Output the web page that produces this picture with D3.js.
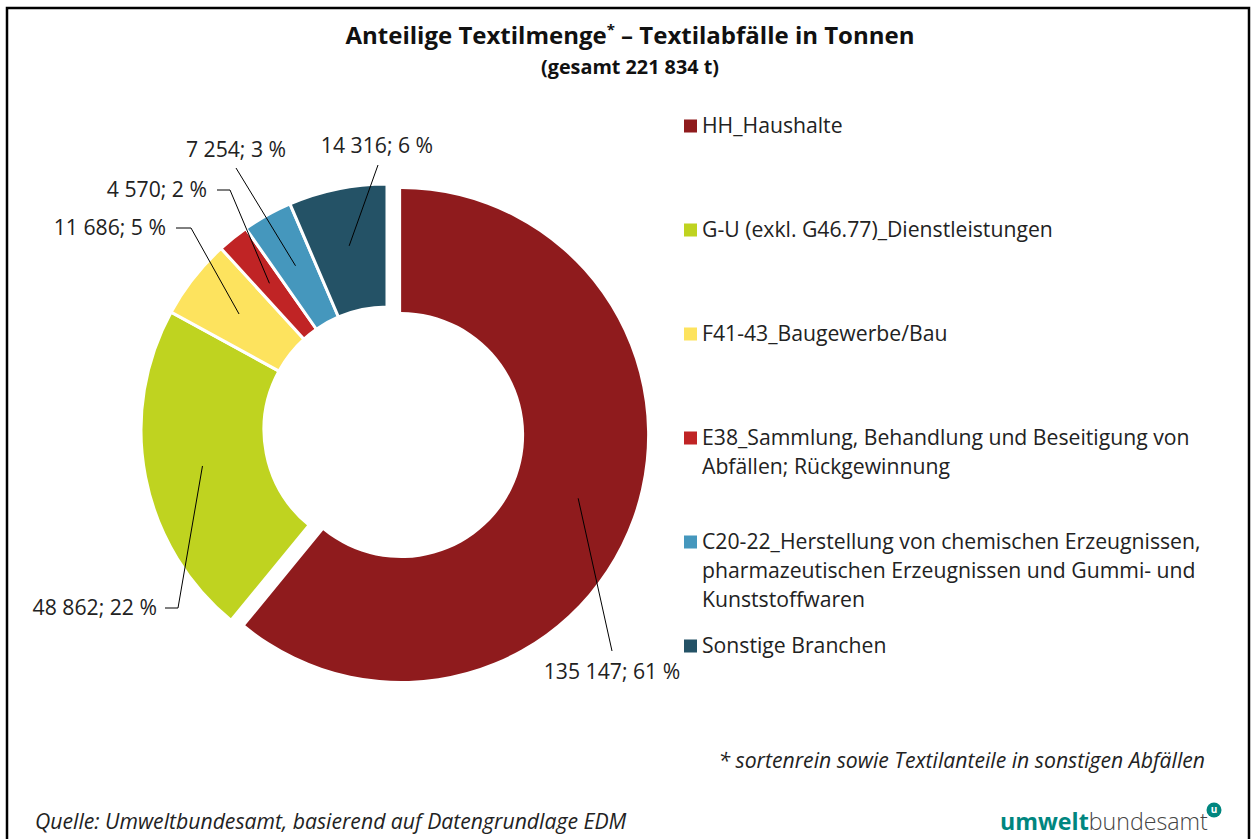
<!DOCTYPE html>
<html>
<head>
<meta charset="utf-8">
<script src="https://cdn.jsdelivr.net/npm/d3@7"></script>
<style>
  html, body { margin: 0; padding: 0; background: #fff; }
  svg { display: block; font-family: "Open Sans", "Noto Sans", sans-serif; }
</style>
</head>
<body>
<svg id="chart" width="1252" height="839"></svg>
<script>
// data
var categories = [
  'HH_Haushalte',
  'G-U (exkl. G46.77)_Dienstleistungen',
  'F41-43_Baugewerbe/Bau',
  'E38_Sammlung, Behandlung und Beseitigung von Abfällen; Rückgewinnung',
  'C20-22_Herstellung von chemischen Erzeugnissen, pharmazeutischen Erzeugnissen und Gummi- und Kunststoffwaren',
  'Sonstige Branchen'
];
var legendLines = [
  ['HH_Haushalte'],
  ['G-U (exkl. G46.77)_Dienstleistungen'],
  ['F41-43_Baugewerbe/Bau'],
  ['E38_Sammlung, Behandlung und Beseitigung von', 'Abfällen; Rückgewinnung'],
  ['C20-22_Herstellung von chemischen Erzeugnissen,', 'pharmazeutischen Erzeugnissen und Gummi- und', 'Kunststoffwaren'],
  ['Sonstige Branchen']
];
var values = [135147, 48862, 11686, 4570, 7254, 14316];
var colors = ['#8f1b1d', '#bfd320', '#fde35e', '#c02425', '#4597bd', '#245266'];

// label placement (text position and elbow of leader line)
var labelLayout = [
  { x: 612, y: 672, anchor: 'middle', from: [612, 651], elbow: null },
  { x: 157, y: 608, anchor: 'end', from: [165, 608], elbow: [178, 608] },
  { x: 166, y: 228, anchor: 'end', from: [176, 228], elbow: [191, 228] },
  { x: 207, y: 190, anchor: 'end', from: [217, 190], elbow: [230, 190] },
  { x: 236, y: 150, anchor: 'middle', from: [236, 168], elbow: null },
  { x: 377, y: 146, anchor: 'middle', from: [378, 165], elbow: null }
];

var cx = 387, cy = 430, R = 246, r = 123, explode = 15;
var fs = 21.2;

var svg = d3.select('#chart');
var loc = d3.formatLocale({ decimal: ',', thousands: ' ', grouping: [3], currency: ['', ' €'] });
var fmt = loc.format(',d');
var total = d3.sum(values);

// frame
svg.append('rect')
  .attr('x', 7).attr('y', 8).attr('width', 1242).attr('height', 860)
  .attr('fill', 'none').attr('stroke', '#000').attr('stroke-width', 2.5);

// title
var title = svg.append('text')
  .attr('x', 630).attr('y', 44)
  .attr('text-anchor', 'middle')
  .attr('font-weight', 700).attr('font-size', 24).attr('fill', '#111');
title.append('tspan').text('Anteilige Textilmenge');
title.append('tspan').text('*').attr('font-size', 15).attr('dy', -9);
title.append('tspan').text(' – Textilabfälle in Tonnen').attr('dy', 9);

svg.append('text')
  .attr('x', 630).attr('y', 74)
  .attr('text-anchor', 'middle')
  .attr('font-weight', 700).attr('font-size', 19.8).attr('fill', '#111')
  .text('(gesamt 221 834 t)');

// donut
var pie = d3.pie().sort(null).value(function (d) { return d; });
var arcs = pie(values);
var arc = d3.arc().innerRadius(r).outerRadius(R);
var anchorArc = d3.arc().innerRadius(188).outerRadius(188);

function offset(d, i) {
  if (i !== 0) return [0, 0];
  var a = (d.startAngle + d.endAngle) / 2;
  return [Math.sin(a) * explode, -Math.cos(a) * explode];
}

var g = svg.append('g').attr('transform', 'translate(' + cx + ',' + cy + ')');

g.selectAll('path.slice')
  .data(arcs)
  .enter()
  .append('path')
  .attr('class', 'slice')
  .attr('transform', function (d, i) { var o = offset(d, i); return 'translate(' + o[0] + ',' + o[1] + ')'; })
  .attr('d', arc)
  .attr('fill', function (d, i) { return colors[i]; })
  .attr('stroke', '#fff')
  .attr('stroke-width', function (d, i) { return i === 0 ? 0 : 3; })
  .attr('stroke-linejoin', 'miter');

// leader lines and labels
arcs.forEach(function (d, i) {
  var o = offset(d, i);
  var c = anchorArc.centroid(d);
  var ax = cx + o[0] + c[0], ay = cy + o[1] + c[1];
  var L = labelLayout[i];
  var pts = [L.from];
  if (L.elbow) pts.push(L.elbow);
  pts.push([ax, ay]);
  svg.append('path')
    .attr('d', d3.line()(pts))
    .attr('fill', 'none').attr('stroke', '#000').attr('stroke-width', 1);

  var pct = Math.round(values[i] / total * 100);
  svg.append('text')
    .attr('x', L.x).attr('y', L.y)
    .attr('dy', '0.35em')
    .attr('text-anchor', L.anchor)
    .attr('font-size', fs).attr('fill', '#222')
    .text(fmt(values[i]) + '; ' + pct + ' %');
});

// legend
var lg = svg.append('g');
legendLines.forEach(function (lines, i) {
  var y = 126 + i * 104;
  lg.append('rect')
    .attr('x', 684).attr('y', y - 6.5).attr('width', 13).attr('height', 13)
    .attr('fill', colors[i]);
  var t = lg.append('text')
    .attr('x', 702).attr('y', y)
    .attr('font-size', fs).attr('fill', '#222');
  lines.forEach(function (s, k) {
    t.append('tspan').attr('x', 702).attr('dy', k === 0 ? '0.35em' : 29).text(s);
  });
});

// footnote & source
svg.append('text')
  .attr('x', 1205).attr('y', 761).attr('dy', '0.35em')
  .attr('text-anchor', 'end')
  .attr('font-style', 'italic').attr('font-size', 21.2).attr('fill', '#222')
  .text('* sortenrein sowie Textilanteile in sonstigen Abfällen');

svg.append('text')
  .attr('x', 35).attr('y', 822).attr('dy', '0.35em')
  .attr('font-style', 'italic').attr('font-size', 21.2).attr('fill', '#222')
  .text('Quelle: Umweltbundesamt, basierend auf Datengrundlage EDM');

// logo
var logo = svg.append('text')
  .attr('x', 1000).attr('y', 830)
  .attr('font-size', 23.2).attr('fill', '#444');
logo.append('tspan').text('umwelt').attr('font-weight', 700).attr('fill', '#00867f');
logo.append('tspan').text('bundesamt').attr('font-weight', 300);
svg.append('circle')
  .attr('cx', 1214).attr('cy', 810).attr('r', 7.5).attr('fill', '#00867f');
svg.append('text')
  .attr('x', 1214).attr('y', 810).attr('dy', '0.33em')
  .attr('text-anchor', 'middle').attr('font-size', 10).attr('font-weight', 700)
  .attr('fill', '#fff').text('u');
</script>
</body>
</html>
